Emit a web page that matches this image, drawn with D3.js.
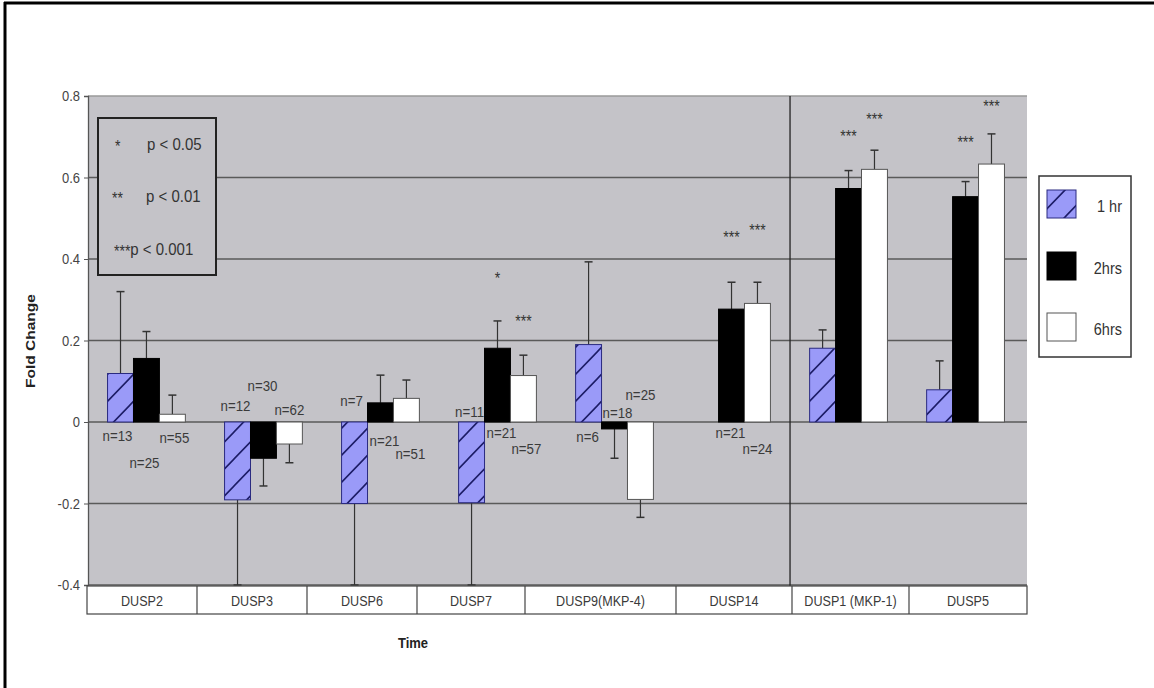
<!DOCTYPE html>
<html>
<head>
<meta charset="utf-8">
<script src="https://cdn.jsdelivr.net/npm/d3@7"></script>
<style>
  html, body { margin: 0; padding: 0; background: #fff; }
  svg { display: block; font-family: "Liberation Sans", Arial, sans-serif; }
</style>
</head>
<body>
<svg id="chart" width="1154" height="688"></svg>
<script>
// ---- data ----
const categories = ["DUSP2", "DUSP3", "DUSP6", "DUSP7", "DUSP9(MKP-4)", "DUSP14", "DUSP1 (MKP-1)", "DUSP5"];
const seriesNames = ["1 hr", "2hrs", "6hrs"];

const hr1Values  = [0.119, -0.191, -0.200, -0.198, 0.190, null, 0.181, 0.079];
const hr1Errors  = [0.201,  0.209,  0.200,  0.202, 0.203, null, 0.045, 0.071];
const hrs2Values = [0.156, -0.089,  0.047,  0.181, -0.017, 0.277, 0.573, 0.553];
const hrs2Errors = [0.066,  0.068,  0.068,  0.067,  0.072, 0.066, 0.044, 0.037];
const hrs6Values = [0.019, -0.054,  0.058,  0.114, -0.190, 0.291, 0.620, 0.633];
const hrs6Errors = [0.047,  0.046,  0.045,  0.050,  0.044, 0.052, 0.047, 0.074];

const hr1N  = [13, 12, 7, 11, 6, null, null, null];
const hrs2N = [25, 30, 21, 21, 18, 21, null, null];
const hrs6N = [55, 62, 51, 57, 25, 24, null, null];

const hr1Sig  = ["", "", "", "", "", "", "", ""];
const hrs2Sig = ["", "", "", "*", "", "***", "***", "***"];
const hrs6Sig = ["", "", "", "***", "", "***", "***", "***"];

const yTicks = [0.8, 0.6, 0.4, 0.2, 0, -0.2, -0.4];
const yTickLabels = ["0.8", "0.6", "0.4", "0.2", "0", "-0.2", "-0.4"];

const sigKeySymbols = ["*", "**", "***"];
const sigKeyTexts = ["p < 0.05", "p < 0.01", "p < 0.001"];

// ---- layout (pixel offsets for annotation placement) ----
// n= label offsets [dx, dy] from bar centre / zero line
const hr1NOffsets  = [[-3, 14], [-2, -16], [-3, -21], [-2, -10], [-1, 15], null, null, null];
const hrs2NOffsets = [[-2, 41], [-1, -36], [4, 19], [4, 11], [3, -9], [-1, 11], null, null];
const hrs6NOffsets = [[2, 16], [0, -12], [4, 32], [3, 27], [0, -27], [0, 27], null, null];
// distance of significance stars above the error-bar tip
const hrs2SigLift = [0, 0, 0, 46, 0, 48, 38, 43];
const hrs6SigLift = [0, 0, 0, 37, 0, 55, 34, 31];
// edges of the category label table under the plot
const labelCellEdges = [87, 197, 307, 417, 525, 676, 792, 909, 1027];

const series = [
  { name: seriesNames[0], values: hr1Values,  errors: hr1Errors,  n: hr1N,  nOff: hr1NOffsets,  sig: hr1Sig,  lift: [0,0,0,0,0,0,0,0], fill: "url(#hatch)", stroke: "#2a2a80" },
  { name: seriesNames[1], values: hrs2Values, errors: hrs2Errors, n: hrs2N, nOff: hrs2NOffsets, sig: hrs2Sig, lift: hrs2SigLift, fill: "#000000", stroke: "#000000" },
  { name: seriesNames[2], values: hrs6Values, errors: hrs6Errors, n: hrs6N, nOff: hrs6NOffsets, sig: hrs6Sig, lift: hrs6SigLift, fill: "#ffffff", stroke: "#555555" }
];

const svg = d3.select("#chart");
const plot = { left: 88, right: 1027, top: 96, bottom: 585 };
const STRETCH = 1.15; // text in this figure is drawn slightly tall

const x = d3.scaleBand().domain(categories).range([plot.left, 1024]).paddingInner(0.335).paddingOuter(0.167);
const xs = d3.scaleBand().domain(seriesNames).range([0, x.bandwidth()]);
const y = d3.scaleLinear().domain([-0.4, 0.8]).range([plot.bottom, plot.top]);

// text helper: places a label at (px, py) with a mild vertical stretch
function label(parent, px, py, str, opts) {
  const o = Object.assign({ size: 13, anchor: "middle", baseline: "central", fill: "#3a3a3a", weight: "normal" }, opts || {});
  return parent.append("text")
    .attr("transform", `translate(${px},${py}) scale(1,${STRETCH})`)
    .attr("text-anchor", o.anchor)
    .attr("dominant-baseline", o.baseline)
    .attr("font-size", o.size)
    .attr("font-weight", o.weight)
    .attr("fill", o.fill)
    .text(str);
}

// hatch pattern for the 1 hr series
const defs = svg.append("defs");
const pat = defs.append("pattern")
  .attr("id", "hatch").attr("patternUnits", "userSpaceOnUse")
  .attr("width", 26).attr("height", 27);
pat.append("rect").attr("width", 26).attr("height", 27).attr("fill", "#9a9af8");
pat.append("path")
  .attr("d", "M0,27 L26,0 M-4,4 L4,-4 M22,31 L30,23")
  .attr("stroke", "#1c1c66").attr("stroke-width", 1.6);

// frame edges
svg.append("line").attr("x1", 5).attr("x2", 5).attr("y1", 2).attr("y2", 688).attr("stroke", "#000").attr("stroke-width", 3);
svg.append("line").attr("x1", 4).attr("x2", 1154).attr("y1", 3).attr("y2", 3).attr("stroke", "#000").attr("stroke-width", 3);

// plot background
svg.append("rect")
  .attr("x", plot.left).attr("y", plot.top)
  .attr("width", plot.right - plot.left).attr("height", plot.bottom - plot.top)
  .attr("fill", "#c4c3c8");

// horizontal gridlines
svg.append("g").selectAll("line").data(yTicks).join("line")
  .attr("x1", plot.left).attr("x2", plot.right)
  .attr("y1", d => y(d)).attr("y2", d => y(d))
  .attr("stroke", d => d === 0.8 ? "#9a9a9a" : "#5a5a5a")
  .attr("stroke-width", 1.5);

// separator between groups
const sepX = x(categories[6]) - x.step() * x.paddingInner() / 2;
svg.append("line")
  .attr("x1", sepX).attr("x2", sepX)
  .attr("y1", plot.top).attr("y2", 614)
  .attr("stroke", "#222").attr("stroke-width", 1.3);

// y axis
const yAxis = d3.axisLeft(y).tickValues(yTicks).tickFormat(() => "").tickSize(4);
const yg = svg.append("g").attr("transform", `translate(${plot.left},0)`).call(yAxis);
yg.select(".domain").attr("stroke", "#555").attr("stroke-width", 1.3);
yg.selectAll(".tick line").attr("stroke", "#555");
yTicks.forEach((t, i) => {
  label(svg, 80, y(t), yTickLabels[i], { size: 13, anchor: "end", fill: "#444" });
});

// bars and error bars
series.forEach((s) => {
  const g = svg.append("g");
  categories.forEach((c, ci) => {
    const v = s.values[ci];
    if (v === null) return;
    const bx = x(c) + xs(s.name);
    const bw = xs.bandwidth();
    const cx = bx + bw / 2;
    // error bar (one-sided, away from zero)
    const tip = v + Math.sign(v) * s.errors[ci];
    g.append("line").attr("x1", cx).attr("x2", cx).attr("y1", y(v)).attr("y2", y(tip))
      .attr("stroke", "#333").attr("stroke-width", 1.2);
    g.append("line").attr("x1", cx - 4).attr("x2", cx + 4).attr("y1", y(tip)).attr("y2", y(tip))
      .attr("stroke", "#333").attr("stroke-width", 1.5);
    // bar
    g.append("rect")
      .attr("x", bx).attr("width", bw)
      .attr("y", Math.min(y(v), y(0))).attr("height", Math.abs(y(v) - y(0)))
      .attr("fill", s.fill).attr("stroke", s.stroke).attr("stroke-width", 1);
  });
});

// n= labels and significance stars drawn on top
series.forEach((s) => {
  categories.forEach((c, ci) => {
    const v = s.values[ci];
    if (v === null) return;
    const cx = x(c) + xs(s.name) + xs.bandwidth() / 2;
    if (s.n[ci] !== null) {
      const [dx, dy] = s.nOff[ci];
      label(svg, cx + dx, y(0) + dy, "n=" + s.n[ci], { size: 13.3 });
    }
    if (s.sig[ci]) {
      const tip = v + Math.sign(v) * s.errors[ci];
      label(svg, cx, y(tip) - s.lift[ci] + 9, s.sig[ci], { size: 14, baseline: "alphabetic", fill: "#333" });
    }
  });
});

// category label table
const tbl = svg.append("g");
tbl.append("rect").attr("x", labelCellEdges[0]).attr("y", 586)
  .attr("width", labelCellEdges[labelCellEdges.length - 1] - labelCellEdges[0]).attr("height", 28)
  .attr("fill", "#fff").attr("stroke", "#444").attr("stroke-width", 1.2);
tbl.selectAll("line.cell").data(labelCellEdges.slice(1, -1)).join("line")
  .attr("x1", d => d).attr("x2", d => d).attr("y1", 586).attr("y2", 614)
  .attr("stroke", "#444").attr("stroke-width", 1.2);
categories.forEach((c, i) => {
  label(tbl, (labelCellEdges[i] + labelCellEdges[i + 1]) / 2, 601, c, { size: 12.6 });
});

// axis titles
label(svg, 413, 643, "Time", { size: 13, weight: "bold", fill: "#222" });
svg.append("text").attr("transform", "translate(30,341) rotate(-90) scale(1,0.85)")
  .attr("text-anchor", "middle").attr("dominant-baseline", "central")
  .attr("font-size", 15.5).attr("font-weight", "bold").attr("fill", "#222").text("Fold Change");

// significance key
const key = svg.append("g");
key.append("rect").attr("x", 98).attr("y", 118).attr("width", 118).attr("height", 157)
  .attr("fill", "#c4c3c8").attr("stroke", "#222").attr("stroke-width", 2);
const keyRowY = [143.5, 196, 248.5];
const keySymX = [115, 112, 114];
const keyTextX = [147, 146, null];
sigKeySymbols.forEach((sym, i) => {
  const st = label(key, keySymX[i], keyRowY[i] + 8, sym, { size: 14, anchor: "start", baseline: "alphabetic", fill: "#333" });
  const tx = keyTextX[i] !== null ? keyTextX[i] : keySymX[i] + st.node().getComputedTextLength();
  label(key, tx, keyRowY[i], sigKeyTexts[i], { size: 15, anchor: "start", fill: "#333" });
});

// series legend
const leg = svg.append("g");
leg.append("rect").attr("x", 1039).attr("y", 176).attr("width", 92).attr("height", 181)
  .attr("fill", "#fff").attr("stroke", "#333").attr("stroke-width", 1.5);
const legRowY = [204, 266, 327];
series.forEach((s, i) => {
  leg.append("rect").attr("x", 1047).attr("y", legRowY[i] - 14).attr("width", 29).attr("height", 28)
    .attr("fill", s.fill).attr("stroke", s.stroke).attr("stroke-width", 1);
  label(leg, 1122, legRowY[i] + 2, s.name, { size: 14.5, anchor: "end", fill: "#333" });
});
</script>
</body>
</html>
